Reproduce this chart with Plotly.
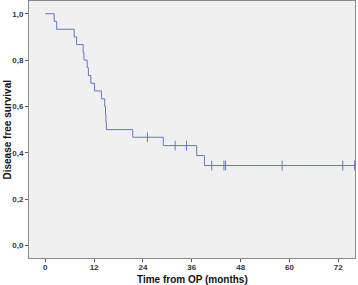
import plotly.graph_objects as go

# Kaplan-Meier step curve (time in months, survival proportion)
step_times = [0, 2.2, 2.8, 7.1, 7.7, 9.3, 9.5, 10.3, 10.6, 11.2, 12.1, 13.8, 14.6, 14.8, 14.9, 15.0, 21.5, 29.0, 37.2, 39.1, 76.1]
step_surv = [1.0, 0.967, 0.933, 0.9, 0.867, 0.833, 0.8, 0.767, 0.733, 0.7, 0.667, 0.633, 0.6, 0.567, 0.533, 0.5, 0.467, 0.431, 0.388, 0.345, 0.345]

# Censored observations
censor_times = [25.1, 31.9, 34.7, 40.9, 43.9, 44.3, 58.2, 73.1, 76.0]
censor_surv = [0.467, 0.431, 0.431, 0.345, 0.345, 0.345, 0.345, 0.345, 0.345]

x_ticks = [0, 12, 24, 36, 48, 60, 72]
y_ticks = [0.0, 0.2, 0.4, 0.6, 0.8, 1.0]

x_title = "Time from OP (months)"
y_title = "Disease free survival"

line_color = "#6676c9"

fig = go.Figure()
fig.add_trace(go.Scatter(
    x=step_times, y=step_surv, mode="lines", line=dict(shape="hv", color=line_color, width=1),
    hoverinfo="skip", showlegend=False))
fig.add_trace(go.Scatter(
    x=censor_times, y=censor_surv, mode="markers",
    marker=dict(symbol="line-ns", size=7, line=dict(color=line_color, width=1)),
    showlegend=False, cliponaxis=False))

tickfont = dict(family="Liberation Sans, Arial, sans-serif", size=8, color="#333333", weight="bold")
titlefont = dict(family="Liberation Sans, Arial, sans-serif", size=10, color="#111111", weight="bold")

fig.update_layout(
    width=358, height=285,
    margin=dict(l=29, r=3, t=1, b=27),
    paper_bgcolor="white", plot_bgcolor="#f0f0f0",
    separators=",.",
    xaxis=dict(range=[-4.0, 76.1], tickvals=x_ticks, ticks="outside", ticklen=3, tickcolor="#555555",
               showgrid=False, zeroline=False, showline=True, mirror=True, linecolor="#8a8a8a", linewidth=1,
               tickfont=tickfont, automargin=False, ticklabelstandoff=-2),
    yaxis=dict(range=[-0.054, 1.055], tickvals=y_ticks, tickformat=".1f", ticks="outside", ticklen=3,
               tickcolor="#555555", showgrid=False, zeroline=False, showline=True, mirror=True,
               linecolor="#8a8a8a", linewidth=1, tickfont=tickfont, automargin=False),
    annotations=[
        dict(text=x_title, xref="paper", yref="paper", x=0.5, y=0, yshift=-21, yanchor="middle",
             xanchor="center", showarrow=False, font=titlefont),
        dict(text=y_title, xref="paper", yref="paper", x=0, y=0.5, xshift=-22, xanchor="center",
             yanchor="middle", textangle=-90, showarrow=False, font=titlefont),
    ],
)

fig.write_html("out.html", config={"displayModeBar": False},
               post_script="document.body.style.margin='0';document.body.style.overflow='hidden';")
